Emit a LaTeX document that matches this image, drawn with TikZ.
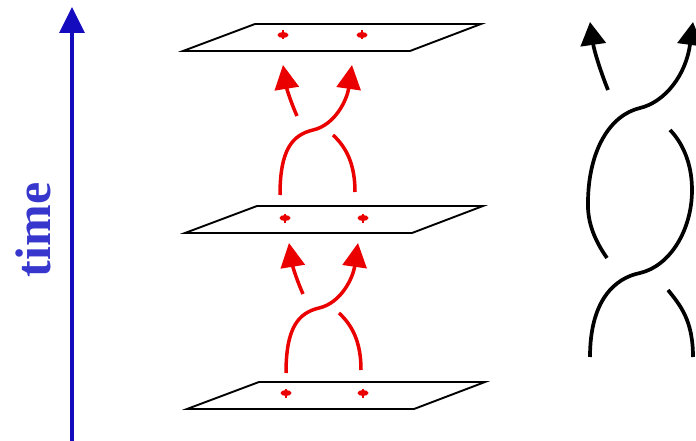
\documentclass[tikz,border=0pt]{standalone}
\usepackage{fontspec}
\setmainfont{Liberation Serif}
\usetikzlibrary{arrows.meta}
\definecolor{timeblue}{RGB}{20,10,190}
\definecolor{textblue}{RGB}{55,55,205}
\definecolor{strandred}{RGB}{235,0,0}
\begin{document}
\begin{tikzpicture}[x=1pt,y=-1pt,
  plane/.style={draw=black,line width=1.9pt,line join=miter},
  redstrand/.style={draw=strandred,line width=3.5pt},
  redarrow/.style={redstrand,-{Triangle[width=24pt,length=24pt]}},
  knot/.style={draw=black,line width=3.7pt},
  knotarrow/.style={knot,-{Triangle[width=25pt,length=23pt]}},
  puncture/.style={fill=strandred,draw=none},
  punctick/.style={draw=strandred,line width=2.2pt}]
\useasboundingbox (0,0) rectangle (696,441);
\clip (0,0) rectangle (696,441);
% time axis
\coordinate (tbot) at (72,441);
\coordinate (ttop) at (72,7);
\draw[timeblue,line width=3.5pt,-{Triangle[width=25pt,length=26pt]}] (tbot) -- (ttop);
\node[rotate=90,anchor=base,text=textblue,inner sep=0pt,
      font=\bfseries\fontsize{50}{50}\selectfont] (timelabel) at (50,230) {time};
% planes
\foreach \dx/\dy in {0/0, 2/182, 4/358}{
  \draw[plane,shift={(\dx,\dy)}] (183,51) -- (410,51) -- (481,24) -- (255,24) -- cycle;
}
% punctures
\foreach \px/\py in {283/35, 362/35, 285/218, 363/218, 286/393, 363/393}{
  \fill[puncture] (\px,\py) ellipse [x radius=5.5pt, y radius=3pt];
  \draw[punctick] (\px,\py-4.5) -- (\px,\py+4.5);
}
% red braid, two elementary exchanges
\foreach \dx/\dy in {0/0, 6/178}{
  \begin{scope}[shift={(\dx,\dy)}]
    \coordinate (oa) at (280,195);
    \coordinate (ox) at (313,130);
    \coordinate (ob) at (352,65);
    \coordinate (ua) at (355,192);
    \coordinate (ug) at (333,135);
    \coordinate (uh) at (297,116);
    \coordinate (ub) at (283,65);
    \draw[redarrow] (oa) .. controls (280,150) and (292,135) .. (ox)
                         .. controls (335,125) and (347,100) .. (ob);
    \draw[redstrand] (ua) .. controls (355,165) and (347,148) .. (ug);
    \draw[redarrow] (uh) .. controls (292,105) and (287,90) .. (ub);
  \end{scope}
}
% black braid on the right
\coordinate (k1a) at (590,357);
\coordinate (k1x) at (640,273);
\coordinate (k1r) at (692,190);
\coordinate (k1g) at (670,130);
\coordinate (k1h) at (608,90);
\coordinate (k1b) at (590,22);
\coordinate (k2a) at (693,357);
\coordinate (k2g) at (668,290);
\coordinate (k2h) at (607,258);
\coordinate (k2l) at (588,200);
\coordinate (k2x) at (640,108);
\coordinate (k2b) at (693,22);
\draw[knot] (k1a) .. controls (590,300) and (615,278) .. (k1x)
            .. controls (670,266) and (692,230) .. (k1r)
            .. controls (692,160) and (680,140) .. (k1g);
\draw[knotarrow] (k1h) .. controls (600,70) and (594,50) .. (k1b);
\draw[knot] (k2a) .. controls (693,320) and (680,305) .. (k2g);
\draw[knotarrow] (k2h) .. controls (593,238) and (587,220) .. (k2l)
            .. controls (589,150) and (610,115) .. (k2x)
            .. controls (665,102) and (686,75) .. (k2b);
\end{tikzpicture}
\end{document}
